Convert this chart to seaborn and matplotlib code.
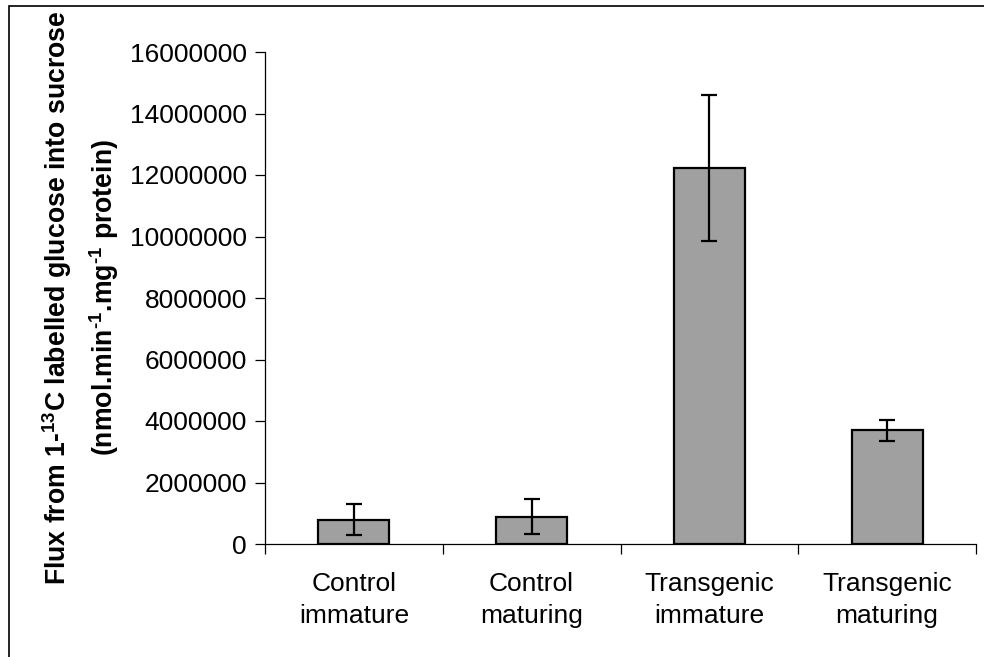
import matplotlib
matplotlib.use("Agg")
import matplotlib.pyplot as plt
import seaborn as sns
import pandas as pd
from matplotlib.patches import Rectangle

categories = ["Control\nimmature", "Control\nmaturing", "Transgenic\nimmature", "Transgenic\nmaturing"]
flux = [790000, 880000, 12230000, 3700000]
err = [510000, 570000, 2370000, 340000]
yticks = [0, 2000000, 4000000, 6000000, 8000000, 10000000, 12000000, 14000000, 16000000]

sns.set_style("white")
plt.rcParams['font.family'] = ['Liberation Sans', 'DejaVu Sans']
plt.rcParams['mathtext.fontset'] = 'custom'
plt.rcParams['mathtext.rm'] = 'Liberation Sans:bold'
plt.rcParams['mathtext.bf'] = 'Liberation Sans:bold'
plt.rcParams['mathtext.default'] = 'bf'
plt.rcParams['text.color'] = 'black'
plt.rcParams['axes.labelcolor'] = 'black'
plt.rcParams['xtick.color'] = 'black'
plt.rcParams['ytick.color'] = 'black'

fig = plt.figure(figsize=(9.84, 6.57), dpi=100)
ax = fig.add_axes([265/984, 1-544/657, (976-265)/984, (544-52)/657])

df = pd.DataFrame({"cat": categories, "flux": flux})
sns.barplot(data=df, x="cat", y="flux", ax=ax, color="#A0A0A0", width=0.4,
            edgecolor="black", linewidth=1.6, saturation=1)

xs = [p.get_x() + p.get_width()/2 for p in ax.patches]
ax.errorbar(xs, flux, yerr=err, fmt="none", ecolor="black", elinewidth=1.6,
            capsize=6, capthick=1.6, zorder=5)

ax.set_ylim(0, 16000000)
ax.set_yticks(yticks)
ax.set_yticklabels([str(v) for v in yticks])
ax.set_xlim(-0.5, 3.5)
n = len(categories)
ax.set_xticks([i - 0.5 for i in range(n + 1)])
ax.set_xticklabels([])
ax.set_xticks(list(range(n)), minor=True)
ax.set_xticklabels(categories, minor=True, fontsize=19, linespacing=1.45, color='black')
ax.tick_params(axis='x', which='minor', length=0, pad=20)
ax.tick_params(axis='x', which='major', length=7, width=0.9, direction='out', color='black', bottom=True)
ax.tick_params(axis='y', which='major', length=7, width=0.9, direction='out', color='black', left=True,
               labelsize=19, pad=6, labelcolor='black')

for s in ['top', 'right']:
    ax.spines[s].set_visible(False)
for s in ['left', 'bottom']:
    ax.spines[s].set_color('black')
    ax.spines[s].set_linewidth(0.9)

ax.set_xlabel("")
ax.set_ylabel("Flux from 1-$^{13}$C labelled glucose into sucrose\n(nmol.min$^{\\text{-1}}$.mg$^{\\text{-1}}$ protein)",
              fontsize=19.2, fontweight='bold', linespacing=1.5, color='black')
ax.yaxis.set_label_coords(-0.203, 0.5)

fig.patches.append(Rectangle((9/984, -0.1), 1.2, 1 - 6/657 + 0.1, transform=fig.transFigure,
                             fill=False, edgecolor='black', linewidth=1.2))

fig.savefig("out.png", dpi=100)
